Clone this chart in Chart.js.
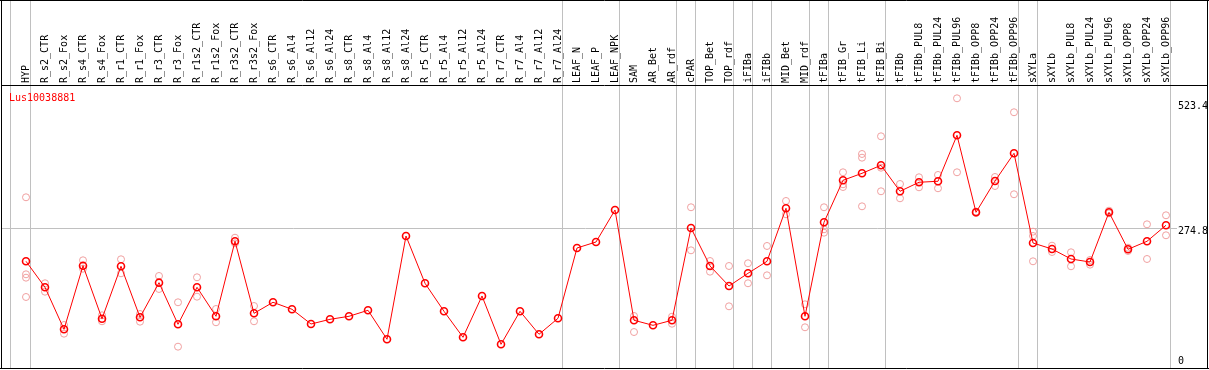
<!DOCTYPE html>
<html>
<head>
<meta charset="utf-8">
<script src="https://cdn.jsdelivr.net/npm/chart.js@4.4.0/dist/chart.umd.min.js"></script>
<style>
html, body { margin: 0; padding: 0; background: #fff; }
#wrap { width: 1209px; height: 370px; }
</style>
</head>
<body>
<div id="wrap"><canvas id="expr" width="1209" height="370"></canvas></div>
<script>
const geneName = "Lus10038881";

const categories = [
    "HYP", "R_s2_CTR", "R_s2_Fox", "R_s4_CTR", "R_s4_Fox", "R_r1_CTR", "R_r1_Fox", "R_r3_CTR", "R_r3_Fox",
    "R_r1s2_CTR", "R_r1s2_Fox", "R_r3s2_CTR", "R_r3s2_Fox", "R_s6_CTR", "R_s6_Al4", "R_s6_Al12", "R_s6_Al24",
    "R_s8_CTR", "R_s8_Al4", "R_s8_Al12", "R_s8_Al24", "R_r5_CTR", "R_r5_Al4", "R_r5_Al12", "R_r5_Al24",
    "R_r7_CTR", "R_r7_Al4", "R_r7_Al12", "R_r7_Al24", "LEAF_N", "LEAF_P", "LEAF_NPK", "SAM", "AR_Bet", "AR_rdf",
    "cPAR", "TOP_Bet", "TOP_rdf", "iFIBa", "iFIBb", "MID_Bet", "MID_rdf", "tFIBa", "tFIB_Gr", "tFIB_Li", "tFIB_Bi",
    "tFIBb", "tFIBb_PUL8", "tFIBb_PUL24", "tFIBb_PUL96", "tFIBb_OPP8", "tFIBb_OPP24", "tFIBb_OPP96",
    "sXYLa", "sXYLb", "sXYLb_PUL8", "sXYLb_PUL24", "sXYLb_PUL96", "sXYLb_OPP8", "sXYLb_OPP24", "sXYLb_OPP96"
];

// mean expression per sample
const means = [
    209.7, 158.1, 74.8, 201.0, 95.8, 199.8, 98.6, 167.3, 84.7, 158.1,
    100.6, 249.4, 106.5, 128.4, 114.5, 85.3, 94.6, 100.6, 112.5, 55.0,
    259.9, 166.1, 110.5, 58.9, 140.9, 45.0, 110.5, 64.9, 96.6, 236.1,
    248.0, 311.5, 92.7, 82.7, 92.7, 275.8, 200.4, 160.7, 185.9, 209.7,
    314.9, 100.6, 287.1, 370.4, 384.3, 400.2, 348.6, 366.5, 368.5, 459.7,
    306.9, 369.0, 424.0, 246.0, 234.1, 214.3, 208.3, 306.9, 233.5, 249.4,
    281.2
];

// single replicates per sample (empty = one sample only)
const replicates = [
    [336.7, 183.9, 177.2, 138.9], [166.1, 149.4], [83.3, 66.1], [211.7, 195.0], [102.6, 90.7],
    [213.7, 185.9], [105.2, 89.9], [180.6, 154.8], [128.4, 40.3], [178.0, 139.5],
    [115.1, 88.7], [256.5, 245.4], [121.0, 90.7],
    [], [], [], [], [], [], [], [], [], [], [], [], [], [], [], [], [], [], [],
    [101.2, 69.4], [], [99.8, 85.9], [316.9, 231.5], [210.3, 189.1], [200.4, 120.4],
    [205.8, 166.1], [240.1, 181.9], [329.4, 303.0], [124.4, 78.8], [316.9, 273.2, 266.5],
    [386.3, 362.5, 357.1], [422.6, 415.3, 318.8], [457.7, 395.4, 348.6], [363.1, 334.7],
    [376.4, 356.5], [381.0, 354.6], [533.1, 386.3], [308.5, 305.6], [377.0, 359.1], [505.4, 342.7],
    [268.5, 259.9, 209.7], [240.7, 228.2], [227.6, 199.8], [212.3, 203.0], [310.1, 304.9],
    [236.7, 230.2], [283.1, 214.3], [301.0, 261.3]
];

// last sample of each tissue group (a separator follows it)
const groupEnds = [0, 28, 31, 34, 35, 37, 38, 39, 41, 42, 45, 52, 53, 60];
const yTicks = [0, 274.8, 523.4];

const X_MIN = -1.316, X_MAX = 60.21, Y_MAX = 557.5;
const MONO = "DejaVu Sans Mono";

let meanPts = means.map((v, i) => ({x: i, y: v}));
let repPts = [];
replicates.forEach((arr, i) => arr.forEach(v => repPts.push({x: i, y: v})));

const decor = {
    id: "decor",
    beforeDatasetsDraw(chart) {
        const c = chart.ctx, xs = chart.scales.x;
        c.save();
        c.strokeStyle = "#c0c0c0";
        c.lineWidth = 1;
        let seps = [-0.84].concat(groupEnds.map(i => i + 0.24));
        seps.forEach(s => {
            let px = Math.floor(xs.getPixelForValue(s)) + 0.5;
            c.beginPath();
            c.moveTo(px, 0);
            c.lineTo(px, 368);
            c.stroke();
        });
        c.restore();
    },
    afterDraw(chart) {
        const c = chart.ctx, ys = chart.scales.y;
        c.save();
        c.strokeStyle = "#000";
        c.lineWidth = 1;
        c.beginPath();
        c.moveTo(0, 0.5); c.lineTo(1209, 0.5);
        c.moveTo(1, 85.5); c.lineTo(1208, 85.5);
        c.moveTo(0, 368.5); c.lineTo(1209, 368.5);
        c.moveTo(1.5, 0); c.lineTo(1.5, 369);
        c.moveTo(1207.5, 0); c.lineTo(1207.5, 369);
        c.stroke();

        c.font = "10px '" + MONO + "'";
        c.fillStyle = "#ff0000";
        c.textBaseline = "middle";
        c.textAlign = "left";
        c.fillText(geneName, 9, 98);

        c.fillStyle = "#000";
        c.textBaseline = "top";
        yTicks.forEach(v => {
            let py = Math.min(ys.getPixelForValue(v) - 2, 356);
            c.fillText(String(v), 1178, py);
        });
        c.restore();
    }
};

let ctx = document.getElementById("expr").getContext("2d");
let chart = new Chart(ctx, {
    type: "line",
    data: {
        datasets: [{
            label: "mean",
            data: meanPts,
            borderColor: "#ff0000",
            borderWidth: 1,
            pointRadius: 3.5,
            pointBorderWidth: 1.6,
            pointBorderColor: "#ff0000",
            pointBackgroundColor: "rgba(0,0,0,0)",
            tension: 0,
            order: 0
        }, {
            label: "replicates",
            data: repPts,
            showLine: false,
            pointRadius: 3.5,
            pointBorderWidth: 1,
            pointBorderColor: "#f0a0a0",
            pointBackgroundColor: "rgba(0,0,0,0)",
            order: 1
        }]
    },
    options: {
        responsive: false,
        devicePixelRatio: 1,
        animation: false,
        layout: { autoPadding: false, padding: { left: 1, right: 1, top: 0, bottom: 3 } },
        plugins: {
            legend: { display: false },
            tooltip: { enabled: false },
            title: { display: false }
        },
        scales: {
            x: {
                type: "linear",
                position: "top",
                min: X_MIN,
                max: X_MAX,
                afterBuildTicks: s => { s.ticks = categories.map((c, i) => ({value: i})); },
                afterFit: s => {
                    s.height = 86;
                    s.paddingLeft = 0;
                    s.paddingRight = 0;
                },
                ticks: {
                    autoSkip: false,
                    minRotation: 90,
                    maxRotation: 90,
                    padding: 3,
                    labelOffset: 12,
                    color: "#000",
                    font: { family: MONO, size: 10 },
                    callback: v => categories[v]
                },
                grid: { display: false, drawTicks: false },
                border: { display: false }
            },
            y: {
                type: "linear",
                position: "right",
                min: 0,
                max: Y_MAX,
                afterBuildTicks: s => { s.ticks = yTicks.map(v => ({value: v})); },
                afterFit: s => {
                    s.width = 38;
                    s.paddingTop = 0;
                    s.paddingBottom = 0;
                },
                ticks: { display: false },
                grid: {
                    color: c => (c.tick && c.tick.value === yTicks[1]) ? "#c0c0c0" : "rgba(0,0,0,0)",
                    drawTicks: true,
                    tickLength: 7,
                    lineWidth: 1
                },
                border: { display: false }
            }
        }
    },
    plugins: [decor]
});
</script>
</body>
</html>
